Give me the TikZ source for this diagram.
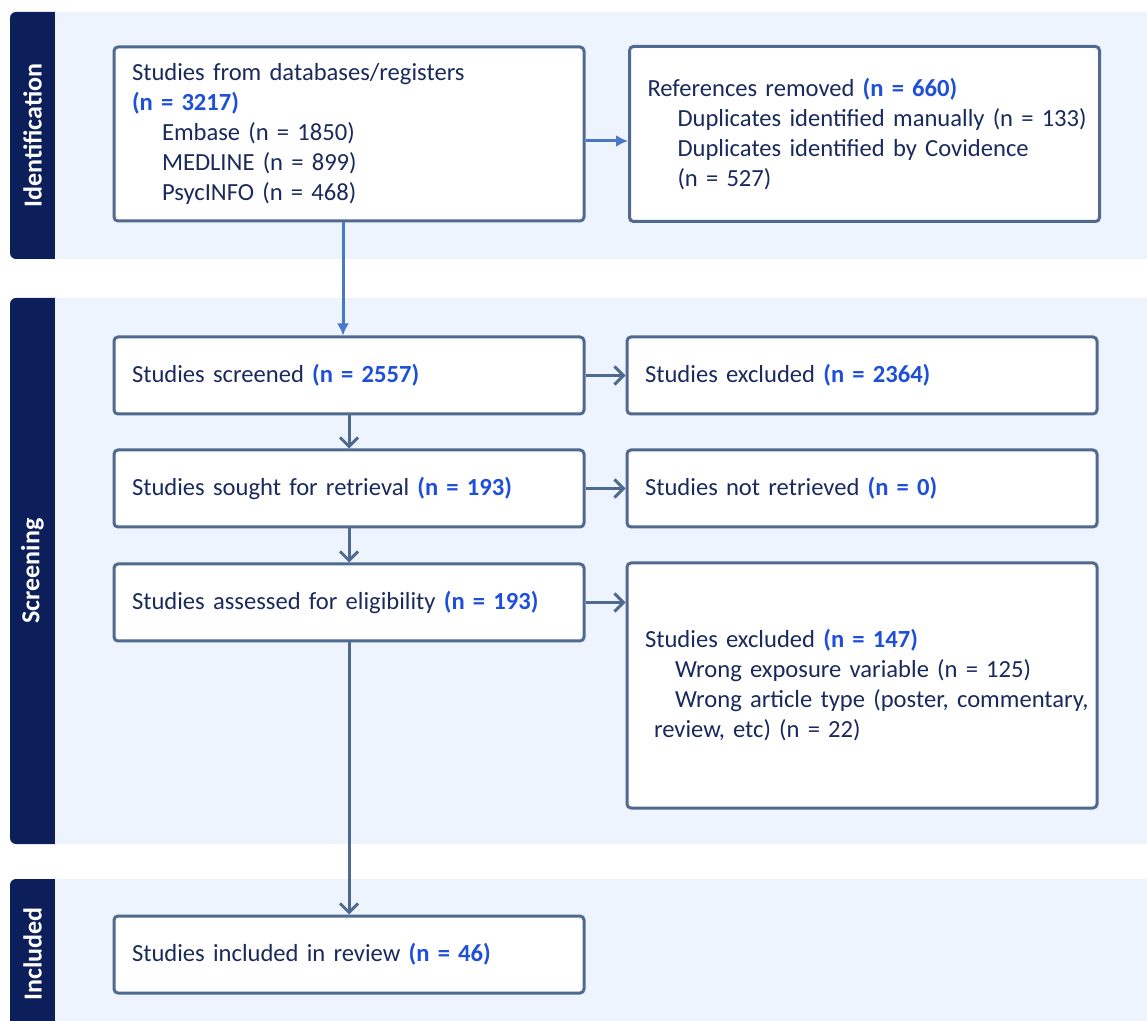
\documentclass[tikz,border=0pt]{standalone}
\usepackage{fontspec}
\setmainfont{Carlito}[WordSpace=0.75]
\usetikzlibrary{arrows.meta}

\definecolor{navy}{HTML}{0C1F5B}
\definecolor{panel}{HTML}{EDF4FD}
\definecolor{edge}{HTML}{50698F}
\definecolor{txt}{HTML}{1A2A5C}
\definecolor{nblue}{HTML}{1E4FD8}
\definecolor{flowblue}{HTML}{4A78C8}

\newcommand{\nval}[1]{{\bfseries\color{nblue}(n = #1)}}
\newcommand{\ind}{\hspace*{15pt}}

\begin{document}
\begin{tikzpicture}[
    x=0.5pt, y=-0.5pt,
    box/.style={draw=edge,line width=1.5pt,fill=white,rounded corners=2pt,
        text=txt,align=left,text width=217pt,inner xsep=9pt,inner ysep=0pt,
        font=\fontsize{12.3pt}{15pt}\selectfont},
    bar/.style={fill=navy,rounded corners=3pt},
    band/.style={fill=panel},
    stage/.style={rotate=90,text=white,font=\bfseries\fontsize{13pt}{15pt}\selectfont},
    flow/.style={-{Latex[length=6pt,width=6pt]},draw=flowblue,line width=1.5pt},
    arrow/.style={-{Straight Barb[length=4.5pt,width=9pt]},draw=edge,line width=1.5pt}
]
\useasboundingbox (0,0) rectangle (1147,1021);

% stage bands
\fill[bar] (10,12) rectangle (62,259);
\fill[band] (55,12) rectangle (1147,259);
\fill[bar] (10,298) rectangle (62,844);
\fill[band] (55,298) rectangle (1147,844);
\fill[bar] (10,879) rectangle (62,1040);
\fill[band] (55,879) rectangle (1147,1040);

\node[stage] (ident) at (32.5,135.5) {Identification};
\node[stage] (screen) at (32.5,571) {Screening};
\node[stage] (incl) at (32.5,954) {Included};

% boxes
\node[box,minimum height=87pt] (db) at (349,134) {Studies from databases/registers\\
    \nval{3217}\\
    \ind Embase (n = 1850)\\
    \ind MEDLINE (n = 899)\\
    \ind PsycINFO (n = 468)};
\node[box,minimum height=87.5pt] (removed) at (864.5,134) {References removed \nval{660}\\
    \ind\mbox{Duplicates identified manually (n = 133)}\\
    \ind Duplicates identified by Covidence\\
    \ind (n = 527)};

\node[box,minimum height=38.5pt] (screened) at (349,375.5) {Studies screened \nval{2557}};
\node[box,minimum height=38.5pt] (excluded) at (862,375.5) {Studies excluded \nval{2364}};
\node[box,minimum height=38.5pt] (sought) at (349,488.5) {Studies sought for retrieval \nval{193}};
\node[box,minimum height=38.5pt] (notret) at (862,488.5) {Studies not retrieved \nval{0}};
\node[box,minimum height=38.5pt] (assessed) at (349,602.5) {Studies assessed for eligibility \nval{193}};
\node[box,minimum height=122.5pt] (excl2) at (862,685.5) {Studies excluded \nval{147}\\
    \ind Wrong exposure variable (n = 125)\\
    \ind\mbox{Wrong article type (poster, commentary,}\\
    \hspace*{4.5pt}review, etc) (n = 22)};

\node[box,minimum height=38.5pt] (included) at (349,954.5) {Studies included in review \nval{46}};

% connectors
\draw[flow] ([xshift=-3pt]db.south) -- ([xshift=-3pt]screened.north);
\draw[flow] ([yshift=-3.5pt]db.east) -- ([yshift=-3.5pt]removed.west);
\draw[arrow] (screened) -- (excluded);
\draw[arrow] (sought) -- (notret);
\draw[arrow] (assessed.east) -- (assessed.east -| excl2.west);
\draw[arrow] (screened) -- (sought);
\draw[arrow] (sought) -- (assessed);
\draw[arrow] (assessed) -- (included);

\end{tikzpicture}
\end{document}
